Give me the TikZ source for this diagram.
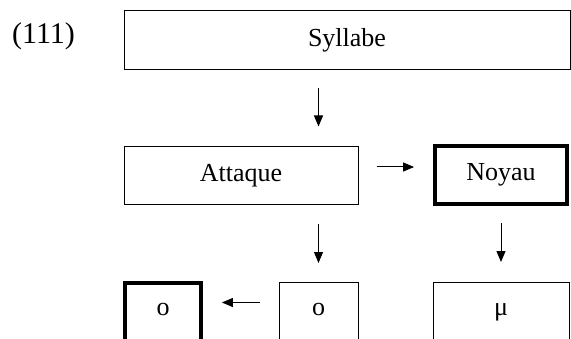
\documentclass[tikz,border=0pt]{standalone}
\usepackage{fontspec}
\setmainfont{Liberation Serif}
\usetikzlibrary{arrows.meta,calc}
\begin{document}
\begin{tikzpicture}[x=1pt,y=1pt,
  box/.style={draw=black, line width=1pt, inner sep=0pt, font=\fontsize{26}{31}\selectfont},
  thickbox/.style={box, line width=3.8pt},
  lowbox/.style={text height=8pt, text depth=3pt, minimum height=60pt, anchor=north},
  arr/.style={line width=1pt, -{Triangle[length=11pt,width=9pt]}}]
\useasboundingbox (0,0) rectangle (571,338);
\clip (0,0) rectangle (571,338);
\node[font=\fontsize{30}{36}\selectfont, inner sep=0pt] (num) at (43.5,302) {(111)};
\node[box, minimum width=446pt, minimum height=59pt] (syl) at (347,297.5) {Syllabe};
\node[box, minimum width=234pt, minimum height=58pt] (att) at (241,162) {Attaque};
\node[thickbox, minimum width=132pt, minimum height=58pt] (noy) at (501,163) {Noyau};
\node[thickbox, lowbox, minimum width=76pt, minimum height=59.2pt] (oo) at (163,57) {o};
\node[box, lowbox, minimum width=79pt] (so) at (318.5,56) {o};
\node[box, lowbox, minimum width=136pt] (mu) at (501,56) {μ};
\draw[arr, shorten <=18pt, shorten >=20pt] (syl.south -| so.north) -- (att.north -| so.north);
\draw[arr, shorten <=18pt, shorten >=19pt] ([yshift=9pt]att.east) -- ([yshift=9pt]att.east -| noy.west);
\draw[arr, shorten <=18pt, shorten >=19pt] (att.south -| so.north) -- (so.north);
\draw[arr, shorten <=17pt, shorten >=20pt] (noy.south) -- (mu.north);
\draw[arr, shorten <=19pt, shorten >=19pt] ([yshift=10pt]so.west) -- ([yshift=10pt]so.west -| oo.east);
\end{tikzpicture}
\end{document}
